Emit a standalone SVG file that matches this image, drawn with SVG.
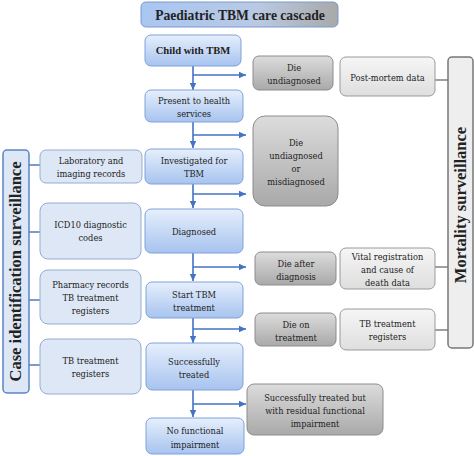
<svg xmlns="http://www.w3.org/2000/svg" width="474" height="456" viewBox="0 0 474 456">
<defs>
<linearGradient id="gBlue" x1="0" y1="0" x2="0" y2="1"><stop offset="0" stop-color="#e6effc"/><stop offset="1" stop-color="#a7c3ef"/></linearGradient>
<linearGradient id="gGray" x1="0" y1="0" x2="0" y2="1"><stop offset="0" stop-color="#dcdcdc"/><stop offset="1" stop-color="#a9a9a9"/></linearGradient>
<linearGradient id="gLight" x1="0" y1="0" x2="0" y2="1"><stop offset="0" stop-color="#f6f6f6"/><stop offset="1" stop-color="#dedede"/></linearGradient>
<linearGradient id="gTitle" x1="0" y1="0" x2="1" y2="0"><stop offset="0" stop-color="#a9c6f2"/><stop offset="0.6" stop-color="#b9c9e2"/><stop offset="1" stop-color="#a8a8a8"/></linearGradient>
<marker id="ah" markerWidth="8" markerHeight="8" refX="7" refY="4" orient="auto" markerUnits="userSpaceOnUse"><path d="M0,0.8 L7,4 L0,7.2 Z" fill="#4472c4"/></marker>
<style>
text{font-family:'DejaVu Serif Condensed','DejaVu Serif','Liberation Serif',serif;font-stretch:condensed;font-size:9.2px;fill:#222;text-anchor:middle}
.b{font-family:'Liberation Serif',serif;font-stretch:normal;font-weight:700;font-size:10.6px}
.blue{fill:url(#gBlue);stroke:#7ea2d8;stroke-width:1}
.lb{fill:#dde7f5;stroke:#93add4;stroke-width:1}
.gray{fill:url(#gGray);stroke:#8c8c8c;stroke-width:1}
.light{fill:url(#gLight);stroke:#9a9a9a;stroke-width:1}
.arr{stroke:#4472c4;stroke-width:1.6;fill:none}
.lnb{stroke:#4a6fb0;stroke-width:1.4}
.lng{stroke:#777;stroke-width:1.4}
</style>
</defs>
<g id="title"><rect x="141" y="2" width="197" height="25" rx="5" fill="url(#gTitle)" stroke="#7a9ad0"/><text x="240" y="19.5" class="b" style="font-size:13.6px">Paediatric TBM care cascade</text></g>

<g id="connectors">
<line class="arr" x1="193" y1="66" x2="193" y2="90" marker-end="url(#ah)"/>
<line class="arr" x1="193" y1="122" x2="193" y2="148" marker-end="url(#ah)"/>
<line class="arr" x1="193" y1="184" x2="193" y2="208" marker-end="url(#ah)"/>
<line class="arr" x1="193" y1="253" x2="193" y2="281" marker-end="url(#ah)"/>
<line class="arr" x1="193" y1="318" x2="193" y2="343" marker-end="url(#ah)"/>
<line class="arr" x1="193" y1="390" x2="193" y2="417" marker-end="url(#ah)"/>
<line class="arr" x1="193" y1="75" x2="246" y2="75" marker-end="url(#ah)"/>
<line class="arr" x1="193" y1="135" x2="246" y2="135" marker-end="url(#ah)"/>
<line class="arr" x1="193" y1="194" x2="246" y2="194" marker-end="url(#ah)"/>
<line class="arr" x1="193" y1="267" x2="246" y2="267" marker-end="url(#ah)"/>
<line class="arr" x1="193" y1="329" x2="246" y2="329" marker-end="url(#ah)"/>
<line class="arr" x1="193" y1="404" x2="246" y2="404" marker-end="url(#ah)"/>
<line class="lnb" x1="29" y1="165" x2="40" y2="165"/>
<line class="lnb" x1="29" y1="232" x2="40" y2="232"/>
<line class="lnb" x1="29" y1="300" x2="40" y2="300"/>
<line class="lnb" x1="29" y1="365" x2="40" y2="365"/>
<line class="lng" x1="435" y1="80" x2="448" y2="80"/>
<line class="lng" x1="435" y1="267" x2="448" y2="267"/>
<line class="lng" x1="435" y1="330" x2="448" y2="330"/>
</g>

<g id="child"><rect class="blue" x="145" y="35" width="96" height="31" rx="6"/><text x="193" y="54" class="b">Child with TBM</text></g>
<g id="present"><rect class="blue" x="145" y="90" width="98" height="32" rx="6"/><text x="194" y="104">Present to health</text><text x="194" y="117">services</text></g>
<g id="investigated"><rect class="blue" x="145" y="149" width="98" height="35" rx="6"/><text x="194" y="164">Investigated for</text><text x="194" y="177">TBM</text></g>
<g id="diagnosed"><rect class="blue" x="145" y="209" width="98" height="44" rx="6"/><text x="194" y="235">Diagnosed</text></g>
<g id="start"><rect class="blue" x="146" y="282" width="97" height="36" rx="6"/><text x="194" y="298">Start TBM</text><text x="194" y="311">treatment</text></g>
<g id="success"><rect class="blue" x="146" y="343" width="97" height="47" rx="6"/><text x="194" y="365">Successfully</text><text x="194" y="378">treated</text></g>
<g id="nofunc"><rect class="blue" x="146" y="418" width="98" height="36" rx="6"/><text x="195" y="434">No functional</text><text x="195" y="448">impairment</text></g>

<g id="caseBar"><rect x="3" y="150" width="26" height="243" rx="4" fill="#dde7f6" stroke="#5b84c6" stroke-width="1.5"/><text transform="translate(21,271.5) rotate(-90)" class="b" style="font-size:16.5px">Case identification surveillance</text></g>
<g id="lab"><rect class="lb" x="40" y="150" width="102" height="33" rx="6"/><text x="91" y="164">Laboratory and</text><text x="91" y="177">imaging records</text></g>
<g id="icd"><rect class="lb" x="40" y="203" width="101" height="56" rx="8"/><text x="90.5" y="228">ICD10 diagnostic</text><text x="90.5" y="241">codes</text></g>
<g id="pharm"><rect class="lb" x="40" y="270" width="101" height="54" rx="8"/><text x="90.5" y="288">Pharmacy records</text><text x="90.5" y="301">TB treatment</text><text x="90.5" y="314">registers</text></g>
<g id="tbreg1"><rect class="lb" x="40" y="339" width="101" height="55" rx="8"/><text x="90.5" y="364">TB treatment</text><text x="90.5" y="377">registers</text></g>

<g id="dieUndiag"><rect class="gray" x="253" y="56" width="80" height="34" rx="6"/><text x="294" y="71">Die</text><text x="294" y="84">undiagnosed</text></g>
<g id="dieMis"><rect class="gray" x="253" y="116" width="85" height="90" rx="12"/><text x="296" y="146">Die</text><text x="296" y="159">undiagnosed</text><text x="296" y="172">or</text><text x="296" y="185">misdiagnosed</text></g>
<g id="dieAfter"><rect class="gray" x="255" y="252" width="81" height="33" rx="6"/><text x="296" y="267">Die after</text><text x="296" y="280">diagnosis</text></g>
<g id="dieOn"><rect class="gray" x="255" y="313" width="81" height="33" rx="6"/><text x="296" y="328">Die on</text><text x="296" y="341">treatment</text></g>
<g id="residual"><rect class="gray" x="247" y="384" width="136" height="51" rx="7"/><text x="315" y="401">Successfully treated but</text><text x="315" y="414">with residual functional</text><text x="315" y="427">impairment</text></g>

<g id="postmortem"><rect class="light" x="340" y="57" width="95" height="39" rx="6"/><text x="387.5" y="81">Post-mortem data</text></g>
<g id="vital"><rect class="light" x="340" y="248" width="95" height="41" rx="6"/><text x="387.5" y="260">Vital registration</text><text x="387.5" y="273">and cause of</text><text x="387.5" y="286">death data</text></g>
<g id="tbreg2"><rect class="light" x="340" y="309" width="95" height="41" rx="6"/><text x="387.5" y="327">TB treatment</text><text x="387.5" y="340">registers</text></g>

<g id="mortBar"><rect x="448" y="57" width="25" height="291" rx="4" fill="#eeeeee" stroke="#777" stroke-width="1.5"/><text transform="translate(466,205) rotate(-90)" class="b" style="font-size:16.5px">Mortality surveillance</text></g>
</svg>
